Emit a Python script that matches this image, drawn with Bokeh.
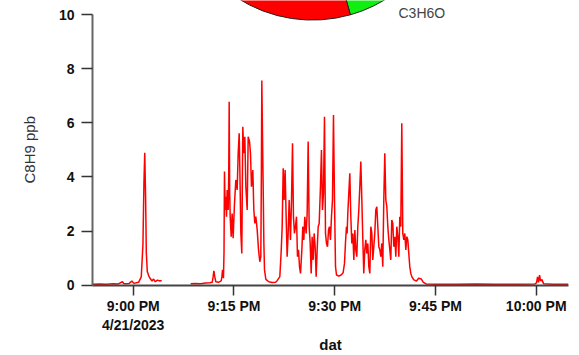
import math
from bokeh.plotting import figure
from bokeh.models import FixedTicker, Range1d, Label, Title
from bokeh.embed import file_html
from bokeh.resources import INLINE

# ---- data: minutes after 9:00 PM on 4/21/2023, C8H9 mixing ratio (ppb)
nan = float("nan")
minutes = [
    -6.1, -5.0, -4.0, -3.0, -2.2, -1.6, -1.4, -0.6, -0.2, 0.1, 0.8, 1.2, 1.45, 1.6, 1.72, 1.85,
    1.95, 2.1, 2.3, 2.5, 2.8, 3.0, 3.3, 3.6, 4.0, 4.25,
    6.0,
    8.55, 9.2, 10.0, 10.8, 11.4, 11.76, 11.9, 12.01, 12.15, 12.30, 12.7, 13.10, 13.20, 13.30, 13.44,
    13.52, 13.59, 13.69, 13.79, 13.89, 13.99, 14.14, 14.22, 14.29, 14.36, 14.44, 14.59, 14.73, 14.88,
    15.08, 15.28, 15.48, 15.63, 15.78, 15.88, 16.03, 16.17, 16.32, 16.47, 16.62, 16.77, 16.97, 17.12,
    17.32, 17.46, 17.61, 17.81, 17.96, 18.11, 18.26, 18.46, 18.66, 18.85, 19.00, 19.08, 19.15, 19.25,
    19.35, 19.45, 19.55, 19.75, 20.19, 20.69, 21.2, 21.43, 21.83, 22.03, 22.18, 22.33, 22.47, 22.62,
    22.77, 22.92, 23.07, 23.22, 23.42, 23.57, 23.72, 23.86, 24.01, 24.16, 24.31, 24.46, 24.61, 24.76,
    24.91, 25.11, 25.25, 25.40, 25.55, 25.75, 25.90, 26.05, 26.20, 26.35, 26.50, 26.64, 26.79, 26.94,
    27.09, 27.24, 27.39, 27.54, 27.69, 27.88, 28.03, 28.18, 28.33, 28.48, 28.63, 28.78, 28.93, 29.08,
    29.22, 29.37, 29.52, 29.67, 29.82, 29.97, 30.12, 30.27, 30.61, 31.0, 31.25, 31.46, 31.60, 31.75,
    31.85, 31.95, 32.10, 32.25, 32.40, 32.55, 32.70, 32.85, 33.00, 33.14, 33.29, 33.44, 33.59, 33.74,
    33.89, 34.04, 34.19, 34.33, 34.48, 34.63, 34.78, 34.93, 35.08, 35.23, 35.38, 35.53, 35.67, 35.82,
    35.97, 36.12, 36.27, 36.42, 36.57, 36.72, 36.87, 37.01, 37.16, 37.31, 37.46, 37.61, 37.76, 37.91,
    38.06, 38.21, 38.35, 38.50, 38.65, 38.80, 38.95, 39.10, 39.25, 39.40, 39.55, 39.69, 39.84, 39.99,
    40.14, 40.29, 40.44, 40.59, 40.74, 40.89, 41.03, 41.18, 41.33, 41.48, 41.78, 42.18, 42.5, 42.9,
    43.2, 43.6, 45.0, 48.0, 51.0, 54.0, 57.0, 59.8, 60.05, 60.2, 60.35, 60.5, 60.65, 60.85, 61.1,
    62.5, 64.8,
]
c8h9 = [
    0.03, 0.04, 0.03, 0.05, 0.04, 0.12, 0.05, 0.06, 0.15, 0.06, 0.10, 0.30, 1.50, 3.80, 4.90, 3.20,
    1.20, 0.50, 0.35, 0.25, 0.15, 0.22, 0.12, 0.18, 0.15, 0.17,
    nan,
    0.05, 0.06, 0.05, 0.07, 0.08, 0.10, 0.30, 0.52, 0.30, 0.12, 0.10, 0.15, 0.30, 0.56, 0.25,
    1.20, 4.20, 2.78, 3.27, 2.53, 3.52, 2.78, 4.00, 6.79, 3.50, 2.53, 1.79, 2.65, 1.73,
    3.02, 3.89, 3.52, 4.88, 5.62, 4.26, 1.91, 1.17, 5.86, 4.88, 5.49, 3.64, 2.78, 5.49,
    5.31, 4.88, 3.64, 4.26, 2.78, 2.28, 2.53, 2.04, 1.30, 0.86, 1.05, 4.00, 7.57, 5.50,
    3.64, 1.60, 0.56, 0.21, 0.12, 0.09, 0.10, 0.16, 0.31, 1.23, 2.16, 4.32, 3.15, 4.26,
    2.53, 1.05, 1.91, 3.15, 1.67, 3.15, 5.25, 2.53, 1.91, 2.16, 2.53, 1.05, 1.30, 0.68,
    0.43, 1.30, 2.16, 1.67, 2.53, 1.91, 2.65, 5.31, 2.16, 1.54, 0.43, 1.79, 0.93, 1.91,
    1.42, 0.31, 1.30, 2.16, 2.28, 3.64, 5.00, 2.78, 3.40, 6.23, 1.91, 1.54, 1.42, 2.04,
    2.16, 1.67, 2.53, 3.15, 6.30, 3.15, 0.68, 0.37, 0.33, 0.38, 0.45, 0.80, 1.54, 2.16,
    1.91, 2.65, 3.40, 4.14, 2.53, 1.54, 1.91, 0.93, 2.04, 1.30, 1.05, 2.16, 2.78, 3.64,
    4.57, 3.15, 1.67, 0.43, 1.30, 1.67, 1.17, 1.54, 0.68, 0.43, 2.16, 1.91, 0.93, 1.42,
    1.91, 2.78, 2.90, 2.16, 1.42, 1.30, 1.05, 1.54, 0.68, 3.15, 4.88, 3.15, 2.90, 2.16,
    1.67, 1.30, 0.93, 2.41, 2.28, 1.42, 1.79, 1.05, 2.16, 1.79, 1.05, 2.53, 2.16, 5.99,
    1.91, 1.67, 1.91, 1.30, 1.79, 1.67, 1.17, 0.68, 0.43, 0.31, 0.19, 0.15, 0.25, 0.22,
    0.10, 0.04, 0.03, 0.03, 0.04, 0.03, 0.03, 0.04, 0.08, 0.30, 0.10, 0.37, 0.15, 0.20, 0.05,
    0.03, 0.03,
]

tick_minutes = [0, 15, 30, 45, 60]
tick_labels = ["9:00 PM\n4/21/2023", "9:15 PM", "9:30 PM", "9:45 PM", "10:00 PM"]
y_ticks = [0, 2, 4, 6, 8, 10]

pie_labels = ["C3H6O", "other"]
pie_fractions = [0.456, 0.544]
pie_colors = ["#11ee11", "#ff0000"]

FONT = "Liberation Sans"

p = figure(width=579, height=355, output_backend="svg", toolbar_location=None,
           x_range=Range1d(-6.06, 64.81), y_range=Range1d(-0.0185, 10.537),
           min_border_left=92, min_border_right=11, min_border_top=0, min_border_bottom=70)
p.outline_line_color = None
p.xgrid.visible = False
p.ygrid.visible = False
p.background_fill_color = "white"
p.border_fill_color = "white"

# pie (only its lower part is inside the picture)
cx, cy, r = 26.69, 14.96, 139
start = 90.0
cum = 0.0
for lab, frac, col in zip(pie_labels, pie_fractions, pie_colors):
    end_a = start - cum * 360
    start_a = start - (cum + frac) * 360
    p.wedge(x=cx, y=cy, radius=r, radius_units="screen",
            start_angle=math.radians(start_a), end_angle=math.radians(end_a),
            fill_color=col, line_color="#222222", line_width=1)
    cum += frac

p.add_layout(Label(x=39.5, y=10.06, text=pie_labels[0], text_font=FONT, text_font_size="14px",
                   text_color="#444444", text_baseline="middle", text_align="left"))

p.line(minutes, c8h9, line_color="#ff0000", line_width=1.5)

# axes
xa = p.xaxis[0]
xa.ticker = FixedTicker(ticks=tick_minutes)
xa.major_label_overrides = {t: l for t, l in zip(tick_minutes, tick_labels)}
xa.major_tick_out = 10
xa.major_tick_in = 0
xa.minor_tick_out = 0
xa.minor_tick_in = 0
xa.axis_line_color = "#444444"
xa.axis_line_width = 2
xa.major_tick_line_color = "#333333"
xa.major_tick_line_width = 1.5
xa.major_label_text_font = FONT
xa.major_label_text_font_style = "bold"
xa.major_label_text_font_size = "14px"
xa.major_label_text_color = "#111111"
xa.major_label_standoff = 2
xa.axis_label = "dat"
xa.axis_label_text_font = FONT
xa.axis_label_text_font_style = "bold"
xa.axis_label_text_font_size = "15px"
xa.axis_label_text_line_height = 1.0
xa.axis_label_text_color = "#111111"
xa.axis_label_standoff = 0

ya = p.yaxis[0]
ya.ticker = FixedTicker(ticks=y_ticks)
ya.bounds = (0, 10)
ya.major_tick_out = 11
ya.major_tick_in = 0
ya.minor_tick_out = 0
ya.minor_tick_in = 0
ya.axis_line_color = "#666666"
ya.axis_line_width = 2
ya.major_tick_line_color = "#333333"
ya.major_tick_line_width = 1.5
ya.major_label_text_font = FONT
ya.major_label_text_font_style = "bold"
ya.major_label_text_font_size = "14px"
ya.major_label_text_color = "#111111"
ya.major_label_standoff = 7

p.add_layout(Title(text="C8H9 ppb", align="left", offset=102, standoff=36,
                   text_font=FONT, text_font_size="15px", text_font_style="normal",
                   text_color="#333333"), "left")

open("out.html", "w").write(file_html(p, INLINE))
